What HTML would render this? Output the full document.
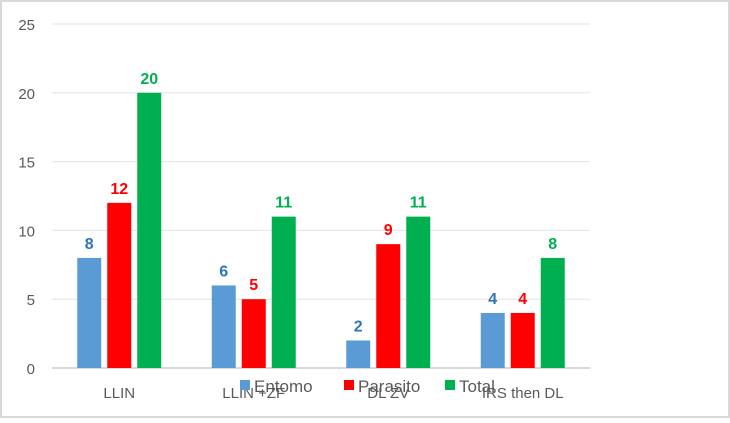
<!DOCTYPE html>
<html><head><meta charset="utf-8"><style>
body{margin:0;background:#fff}
svg text{font-family:"Liberation Sans",sans-serif}
</style></head><body>
<svg width="730" height="418" xmlns="http://www.w3.org/2000/svg">
<rect x="1" y="1" width="728" height="416" fill="#fff" stroke="#d9d9d9" stroke-width="2"/>
<g id="grid"></g><g id="bars"></g><g id="labels"></g>
<g>
<rect x="240" y="380" width="10" height="10" fill="#5b9bd5"/>
<text x="254" y="392" font-size="17" fill="#595959">Entomo</text>
<rect x="344" y="380" width="10" height="10" fill="#ff0000"/>
<text x="358" y="392" font-size="17" fill="#595959">Parasito</text>
<rect x="445" y="380" width="10" height="10" fill="#00b050"/>
<text x="459" y="392" font-size="17" fill="#595959">Total</text>
</g>
</svg>
<script>
const categories=["LLIN","LLIN +ZF","DL ZV","IRS then DL"];
const entomo=[8,6,2,4];
const parasito=[12,5,9,4];
const total=[20,11,11,8];
const yTicks=[0,5,10,15,20,25];
const NS="http://www.w3.org/2000/svg";
const x0=52,x1=590,y0=368,yTop=24,yMax=25;
const y=v=>y0-(v/yMax)*(y0-yTop);
const cw=(x1-x0)/categories.length;
const cx=i=>x0+cw*(i+0.5);
function mk(t,a,p){const e=document.createElementNS(NS,t);for(const k in a)e.setAttribute(k,a[k]);p.appendChild(e);return e;}
const grid=document.getElementById('grid'),bars=document.getElementById('bars'),labels=document.getElementById('labels');
yTicks.forEach(v=>{
 const l=mk('line',{x1:x0,x2:x1,y1:y(v),y2:y(v),stroke:v===0?'#d9d9d9':'#e3e3e3','stroke-width':v===0?2:1},grid);
 
 
 const t=mk('text',{x:35,y:y(v)+6,'text-anchor':'end','font-size':15,fill:'#595959'},grid);
 t.textContent=v;
 
 
});
const series=[{n:'entomo',d:entomo,c:'#5b9bd5',lc:'#2e75b6'},{n:'parasito',d:parasito,c:'#ff0000',lc:'#ff0000'},{n:'total',d:total,c:'#00b050',lc:'#00b050'}];
const bw=24,step=30;
categories.forEach((cat,i)=>{
 series.forEach((s,j)=>{
  const bx=cx(i)+(j-1)*step-bw/2;
  const r=mk('rect',{x:bx,y:y(s.d[i]),width:bw,height:y0-y(s.d[i]),fill:s.c},bars);
  
  
  const t=mk('text',{x:bx+bw/2,y:y(s.d[i])-9,'text-anchor':'middle','font-size':16,'font-weight':'bold',fill:s.lc},labels);
  t.textContent=s.d[i];
  
  
 });
 const t=mk('text',{x:cx(i),y:398,'text-anchor':'middle','font-size':15,fill:'#595959'},labels);
 t.textContent=cat;
 
 
});
</script>
</body></html>
